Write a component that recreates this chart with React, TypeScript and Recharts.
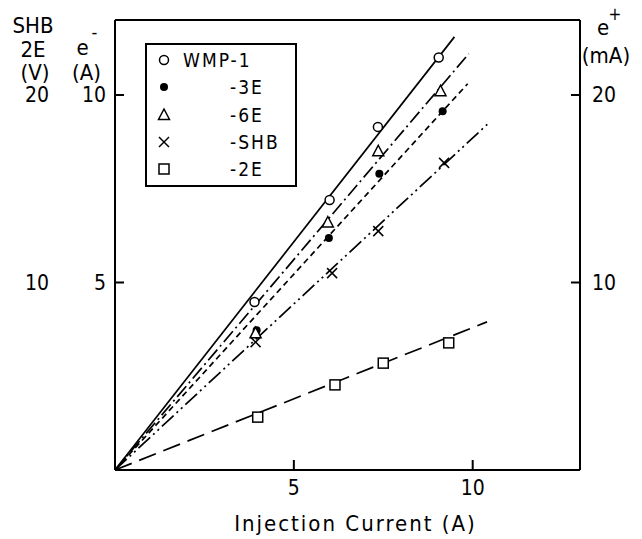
import React from "react";
import {
  ComposedChart,
  Line,
  Scatter,
  XAxis,
  YAxis,
  Legend,
  ReferenceLine,
} from "recharts";

const FONT =
  '"Liberation Sans Narrow", "DejaVu Sans Condensed", "Liberation Sans", sans-serif';

const seriesNames = ["WMP-1", "-3E", "-6E", "-SHB", "-2E"];
const markerKinds = ["circle", "dot", "triangle", "cross", "square"];
const dashes = ["", "6 4", "14 4 2 4", "16 4 2 4 2 4", "18 8"];

// measured points: injection current (A) -> e- current (A)
const wmp1Points = [
  { x: 3.9, y: 4.48 },
  { x: 6.0, y: 7.2 },
  { x: 7.35, y: 9.15 },
  { x: 9.05, y: 11.0 },
];
const wmp3ePoints = [
  { x: 3.96, y: 3.73 },
  { x: 5.98, y: 6.19 },
  { x: 7.39, y: 7.9 },
  { x: 9.16, y: 9.57 },
];
const wmp6ePoints = [
  { x: 3.93, y: 3.65 },
  { x: 5.95, y: 6.6 },
  { x: 7.36, y: 8.5 },
  { x: 9.1, y: 10.1 },
];
const wmpShbPoints = [
  { x: 3.93, y: 3.41 },
  { x: 6.07, y: 5.25 },
  { x: 7.36, y: 6.37 },
  { x: 9.2, y: 8.19 },
];
const wmp2ePoints = [
  { x: 3.99, y: 1.41 },
  { x: 6.15, y: 2.27 },
  { x: 7.5, y: 2.85 },
  { x: 9.33, y: 3.39 },
];

// straight fits through the origin, as drawn
const wmp1Fit = [{ x: 0, y: 0 }, { x: 9.49, y: 11.55 }];
const wmp3eFit = [{ x: 0, y: 0 }, { x: 9.86, y: 10.3 }];
const wmp6eFit = [{ x: 0, y: 0 }, { x: 9.89, y: 11.1 }];
const wmpShbFit = [{ x: 0, y: 0 }, { x: 10.48, y: 9.28 }];
const wmp2eFit = [{ x: 0, y: 0 }, { x: 10.4, y: 3.95 }];

const xTicks = [5, 10];
const eTicks = [5, 10];
const voltTicks = [10, 20];
const positronTicks = [10, 20];

const allPoints = [wmp1Points, wmp3ePoints, wmp6ePoints, wmpShbPoints, wmp2ePoints];
const allFits = [wmp1Fit, wmp3eFit, wmp6eFit, wmpShbFit, wmp2eFit];

function Marker({ cx, cy, kind }: { cx: number; cy: number; kind: string }) {
  const s = { stroke: "#000", strokeWidth: 1.5 };
  switch (kind) {
    case "circle":
      return <circle cx={cx} cy={cy} r={4.5} fill="#fff" {...s} />;
    case "dot":
      return <circle cx={cx} cy={cy} r={4} fill="#000" />;
    case "triangle":
      return (
        <polygon
          points={`${cx},${cy - 6} ${cx - 5.5},${cy + 4.5} ${cx + 5.5},${cy + 4.5}`}
          fill="#fff"
          {...s}
        />
      );
    case "cross":
      return (
        <g {...s}>
          <line x1={cx - 5} y1={cy - 5} x2={cx + 5} y2={cy + 5} />
          <line x1={cx - 5} y1={cy + 5} x2={cx + 5} y2={cy - 5} />
        </g>
      );
    default:
      return <rect x={cx - 5} y={cy - 5} width={10} height={10} fill="#fff" {...s} />;
  }
}

const leftTick = (props: any) => {
  const { x, y, payload } = props;
  return (
    <g>
      <line x1={x + 7} x2={x + 16} y1={y} y2={y} stroke="#000" strokeWidth={2} />
      <text x={x - 2} y={y + 7} textAnchor="end" fontSize={21} fontFamily={FONT}>
        {payload.value}
      </text>
    </g>
  );
};

const voltTick = (props: any) => {
  const { x, y, payload } = props;
  return (
    <text x={x - 18} y={y + 7} textAnchor="middle" fontSize={21} fontFamily={FONT}>
      {payload.value}
    </text>
  );
};

const rightTick = (props: any) => {
  const { x, y, payload } = props;
  return (
    <g>
      <line x1={x - 12} x2={x - 21} y1={y} y2={y} stroke="#000" strokeWidth={2} />
      <text x={x} y={y + 7} textAnchor="start" fontSize={21} fontFamily={FONT}>
        {payload.value}
      </text>
    </g>
  );
};

const bottomTick = (props: any) => {
  const { x, y, payload } = props;
  return (
    <g>
      <line x1={x} x2={x} y1={y - 8} y2={y - 18} stroke="#000" strokeWidth={2} />
      <text x={x} y={y + 17} textAnchor="middle" fontSize={21} fontFamily={FONT}>
        {payload.value}
      </text>
    </g>
  );
};

function LegendBox() {
  return (
    <div
      style={{
        width: 148,
        height: 140,
        border: "2px solid #000",
        position: "relative",
        background: "#fff",
        fontFamily: FONT,
        fontSize: 19,
      }}
    >
      {seriesNames.map((name, i) => (
        <div
          key={name}
          style={{ position: "absolute", top: 3 + i * 27.3, left: 0, height: 24, width: 148 }}
        >
          <svg width={20} height={24} style={{ position: "absolute", left: 7, top: 0 }}>
            <Marker cx={10} cy={12} kind={markerKinds[i]} />
          </svg>
          <span
            style={{
              position: "absolute",
              left: i === 0 ? 36 : 83,
              lineHeight: "24px",
              letterSpacing: 2,
              whiteSpace: "nowrap",
            }}
          >
            {name}
          </span>
        </div>
      ))}
    </div>
  );
}

export default function App() {
  return (
    <div style={{ position: "absolute", left: 0, top: 0, background: "#fff", fontFamily: FONT }}>
      <ComposedChart
        width={642}
        height={539}
        margin={{ top: 20, right: 5, bottom: 5, left: 5 }}
      >
        <XAxis
          type="number"
          dataKey="x"
          domain={[0, 13]}
          ticks={xTicks}
          height={64}
          tickSize={0}
          tickMargin={8}
          tickLine={false}
          axisLine={{ stroke: "#000", strokeWidth: 2 }}
          tick={bottomTick}
          label={{
            content: (p: any) => {
              const vb = p.viewBox;
              return (
                <text
                  x={vb.x + vb.width / 2 + 8}
                  y={vb.y + 61}
                  textAnchor="middle"
                  fontSize={22}
                  letterSpacing={2}
                  fontFamily={FONT}
                >
                  Injection Current (A)
                </text>
              );
            },
          }}
        />
        <YAxis
          yAxisId="e"
          type="number"
          dataKey="y"
          domain={[0, 12]}
          ticks={eTicks}
          width={55}
          tickSize={0}
          tickMargin={7}
          tickLine={false}
          axisLine={{ stroke: "#000", strokeWidth: 2 }}
          tick={leftTick}
          label={{
            content: (p: any) => {
              const vb = p.viewBox;
              const cx = vb.x + vb.width / 2 - 1;
              return (
                <g fontFamily={FONT} fontSize={22} textAnchor="middle">
                  <text x={cx - 4} y={55}>
                    e
                  </text>
                  <text x={cx + 8} y={38} fontSize={18}>
                    -
                  </text>
                  <text x={cx} y={80}>
                    (A)
                  </text>
                </g>
              );
            },
          }}
        />
        <YAxis
          yAxisId="v"
          type="number"
          domain={[0, 24]}
          allowDataOverflow
          ticks={voltTicks}
          width={55}
          tickSize={0}
          tickMargin={5}
          tickLine={false}
          axisLine={false}
          tick={voltTick}
          label={{
            content: () => (
              <g fontFamily={FONT} fontSize={22} textAnchor="middle">
                <text x={33} y={33}>SHB</text>
                <text x={33} y={57}>2E</text>
                <text x={35} y={80}>(V)</text>
              </g>
            ),
          }}
        />
        <YAxis
          yAxisId="pos"
          orientation="right"
          type="number"
          domain={[0, 24]}
          allowDataOverflow
          ticks={positronTicks}
          width={57}
          tickSize={0}
          tickMargin={12}
          tickLine={false}
          axisLine={{ stroke: "#000", strokeWidth: 2 }}
          tick={rightTick}
          label={{
            content: (p: any) => {
              const vb = p.viewBox;
              const cx = vb.x + 26;
              return (
                <g fontFamily={FONT} fontSize={22} textAnchor="middle">
                  <text x={cx - 3} y={35}>
                    e
                  </text>
                  <text x={cx + 9} y={20} fontSize={17}>
                    +
                  </text>
                  <text x={cx} y={63}>
                    (mA)
                  </text>
                </g>
              );
            },
          }}
        />
        <ReferenceLine yAxisId="e" y={12} stroke="#000" strokeWidth={2} />
        {allFits.map((fit, i) => (
          <Line
            key={"fit" + i}
            yAxisId="e"
            data={fit}
            dataKey="y"
            type="linear"
            stroke="#000"
            strokeWidth={1.7}
            strokeDasharray={dashes[i] || undefined}
            dot={false}
            activeDot={false}
            legendType="none"
            isAnimationActive={false}
          />
        ))}
        {allPoints.map((pts, i) => (
          <Scatter
            key={"pts" + i}
            yAxisId="e"
            data={pts}
            dataKey="y"
            name={seriesNames[i]}
            shape={(p: any) => <Marker cx={p.cx} cy={p.cy} kind={markerKinds[i]} />}
            isAnimationActive={false}
          />
        ))}
        <Legend
          layout="vertical"
          align="center"
          verticalAlign="middle"
          wrapperStyle={{ left: 145, top: 43, width: 152, height: 144 }}
          content={() => <LegendBox />}
        />
      </ComposedChart>
    </div>
  );
}
